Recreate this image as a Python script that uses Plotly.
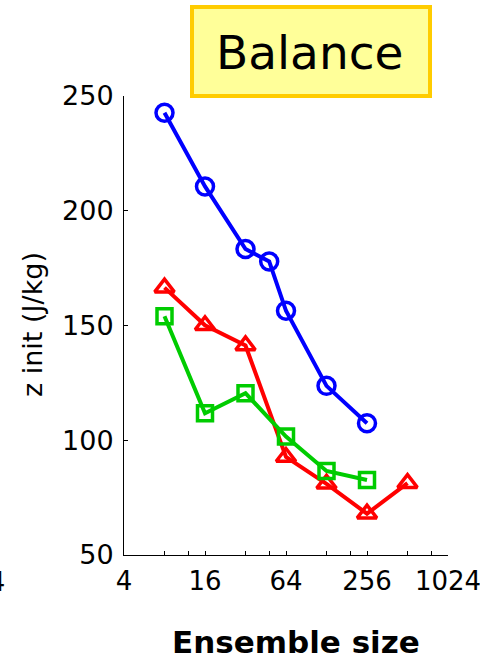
import plotly.graph_objects as go

# Ensemble sizes for each experiment
sizes_circle = [8, 16, 32, 48, 64, 128, 256]
sizes_triangle = [8, 16, 32, 64, 128, 256, 512]
sizes_square = [8, 16, 32, 64, 128, 256]

# z init values (J/kg)
z_circle = [242.7, 210.6, 183.3, 177.9, 156.4, 123.7, 107.4]
z_triangle = [166.5, 150.1, 141.3, 92.7, 81.0, 68.0, 81.3]
z_square = [154.0, 111.8, 120.5, 101.6, 86.6, 82.7]

# Axis ticks
x_tickvals = [4, 8, 12, 16, 32, 48, 64, 128, 192, 256, 512, 768, 1024]
x_ticktext = ["4", "", "", "16", "", "", "64", "", "", "256", "", "", "1024"]
y_tickvals = [50, 100, 150, 200, 250]

FONT = "DejaVu Sans"

fig = go.Figure()

fig.add_trace(go.Scatter(
    x=sizes_circle, y=z_circle, mode="lines+markers",
    line=dict(color="#0000ff", width=4),
    marker=dict(symbol="circle-open", size=17, color="#0000ff",
                line=dict(width=3.5, color="#0000ff")),
))
fig.add_trace(go.Scatter(
    x=sizes_triangle, y=z_triangle, mode="lines+markers",
    line=dict(color="#ff0000", width=4),
    marker=dict(symbol="triangle-up-open", size=17, color="#ff0000",
                line=dict(width=3.5, color="#ff0000")),
))
fig.add_trace(go.Scatter(
    x=sizes_square, y=z_square, mode="lines+markers",
    line=dict(color="#00cc00", width=4),
    marker=dict(symbol="square-open", size=15, color="#00cc00",
                line=dict(width=3.5, color="#00cc00")),
))

L, R, T, B = 124, 32, 96, 104
W, H = 480, 659
pw, ph = W - L - R, H - T - B


def px_x(p):
    return (p - L) / pw


def px_y(p):
    return (H - B - p) / ph


fig.update_layout(
    width=W, height=H,
    margin=dict(l=L, r=R, t=T, b=B, pad=0, autoexpand=False),
    paper_bgcolor="white", plot_bgcolor="white",
    showlegend=False,
    font=dict(family=FONT, color="black"),
    xaxis=dict(
        type="log", range=[0.60206, 3.0103],
        tickvals=x_tickvals, ticktext=x_ticktext,
        ticks="inside", ticklen=4, tickwidth=1, tickcolor="black",
        showline=True, linecolor="black", linewidth=1, mirror=False,
        showgrid=False, zeroline=False, automargin=False,
        tickfont=dict(size=26, family=FONT), ticklabelstandoff=3,
        ticklabeloverflow="allow",
    ),
    yaxis=dict(
        range=[50, 250], tickvals=y_tickvals,
        ticks="inside", ticklen=4, tickwidth=1, tickcolor="black",
        showline=True, linecolor="black", linewidth=1, mirror=False,
        showgrid=False, zeroline=False, automargin=False,
        tickfont=dict(size=27, family=FONT), ticklabelstandoff=4,
    ),
)

# Title box
fig.add_shape(
    type="rect", xref="paper", yref="paper",
    x0=px_x(192), x1=px_x(430), y0=px_y(96), y1=px_y(7),
    fillcolor="#ffff99", line=dict(color="#ffcc00", width=4), layer="above",
)
fig.add_annotation(
    text="Balance", xref="paper", yref="paper",
    x=px_x(309), y=px_y(52), xanchor="center", yanchor="middle",
    showarrow=False, font=dict(size=47, family=FONT, color="black"),
)

# Axis titles
fig.add_annotation(
    text="z init (J/kg)", xref="paper", yref="paper",
    x=px_x(32), y=px_y(325), xanchor="center", yanchor="middle",
    textangle=-90, showarrow=False, font=dict(size=27, family=FONT),
)
fig.add_annotation(
    text="<b>Ensemble size</b>", xref="paper", yref="paper",
    x=px_x(296), y=px_y(642), xanchor="center", yanchor="middle",
    showarrow=False, font=dict(size=31, family=FONT),
)

# Last tick label of the neighbouring panel, clipped at the page edge
fig.add_annotation(
    text="1024", xref="paper", yref="paper",
    x=px_x(7), y=px_y(582), xanchor="right", yanchor="middle",
    showarrow=False, font=dict(size=26, family=FONT),
)

fig.write_html("out.html")
